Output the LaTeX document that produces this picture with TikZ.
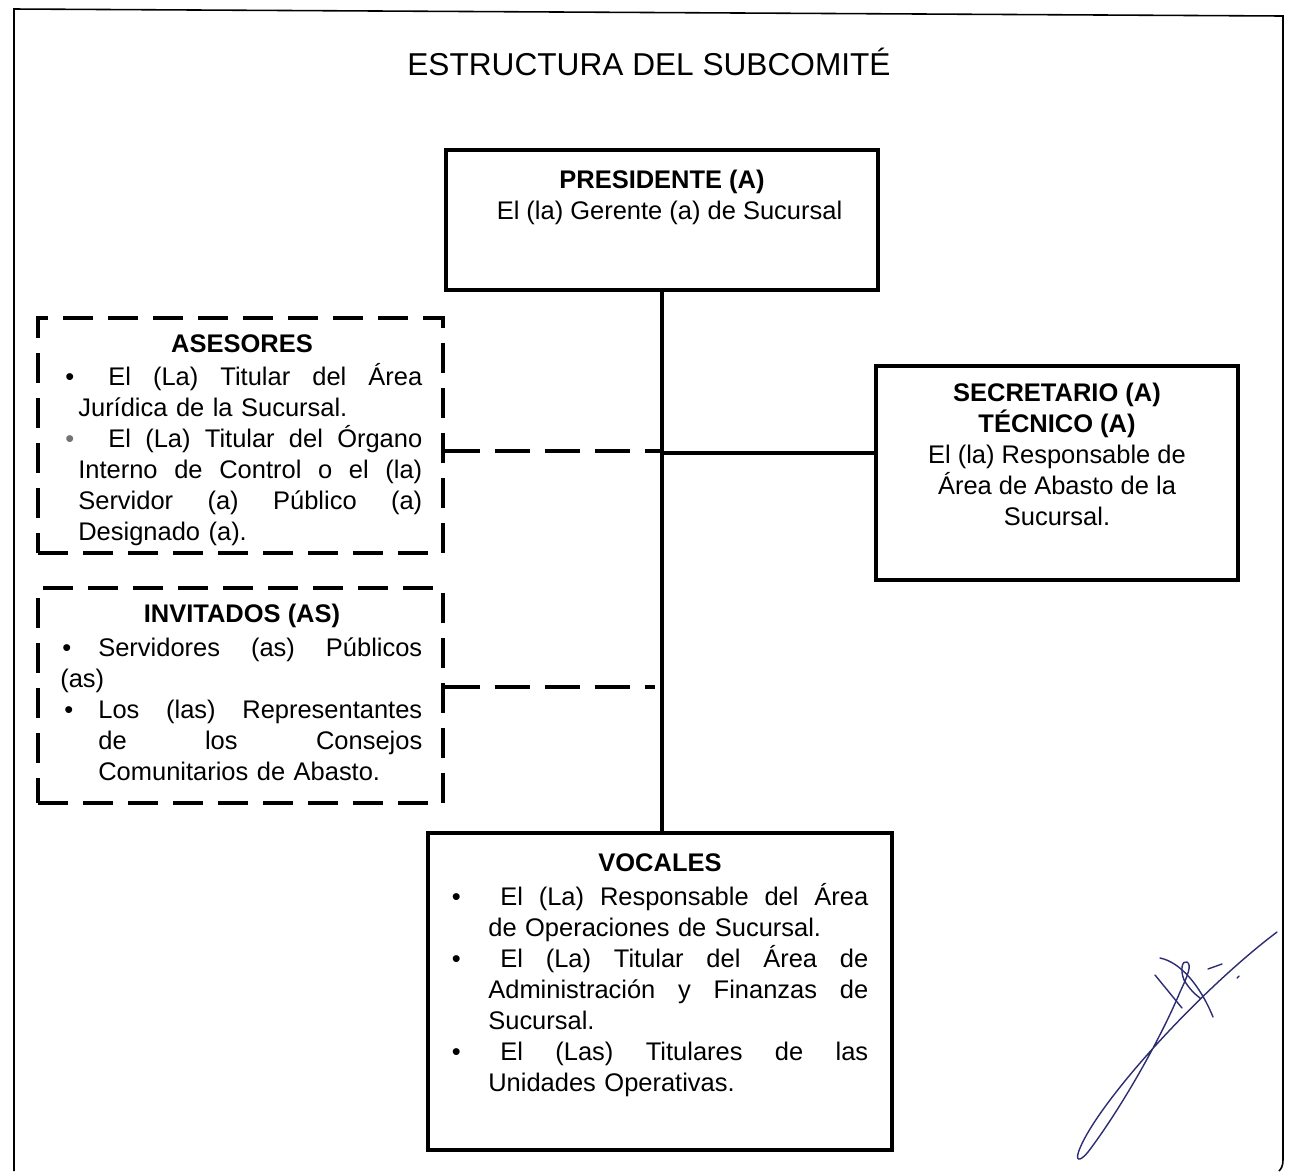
\documentclass[tikz,border=0pt]{standalone}
\usepackage{fontspec}
\setmainfont{Liberation Sans}
\definecolor{inkblue}{RGB}{45,45,115}

% one line stretched to a given width
\newcommand{\jline}[2]{{\spaceskip=.278em plus 1fil\relax\makebox[#1][s]{#2}}}
% hanging bullet, #1 = gap between bullet and text
\newcommand{\hbul}[1]{\leavevmode\llap{\textbullet\kern#1}}
\newcommand{\ind}[1]{\leavevmode\kern#1\relax}

\begin{document}
\begin{tikzpicture}[x=0.02cm, y=-0.02cm,
	solidbox/.style={draw, line width=2.2pt, inner sep=0pt},
	dashbox/.style={draw, line width=1.9pt, dash pattern=on 0.6cm off 0.3cm, inner sep=0pt},
	head/.style={font=\fontsize{14.5}{17.6}\selectfont\bfseries, anchor=base, inner sep=0pt},
	boxtext/.style={font=\fontsize{14.5}{17.6}\selectfont, align=center, inner sep=0pt, anchor=north},
	list/.style={font=\fontsize{14.5}{17.6}\selectfont, align=left, inner sep=0pt, anchor=north west},
	link/.style={line width=1.8pt},
	dlink/.style={link, dash pattern=on 0.7cm off 0.3cm},
	sign/.style={inkblue, line width=0.8pt, line cap=round}]
	\useasboundingbox (0,0) rectangle (1296,1171);

	% Frame and title
	\draw [line width=0.9pt] (14,1171) -- (14,9) -- (1283,16) -- (1283,1160) .. controls (1283,1166) and (1281,1169) .. (1279,1171);
	\node [font=\fontsize{18}{22}\selectfont, anchor=base] (title) at (649,75) {ESTRUCTURA DEL SUBCOMITÉ};

	% Boxes {pres, sec, ase, inv, voc}
	\node [solidbox, minimum width=8.64cm, minimum height=2.8cm]  (pres) at (662,220)     {};
	\node [solidbox, minimum width=7.24cm, minimum height=4.28cm] (sec)  at (1057,473)    {};
	\node [dashbox,  minimum width=8.1cm,  minimum height=4.7cm]  (ase)  at (240.5,435.5) {};
	\node [dashbox,  minimum width=8.1cm,  minimum height=4.3cm]  (inv)  at (240.5,695.5) {};
	\node [solidbox, minimum width=9.28cm, minimum height=6.34cm] (voc)  at (660,991.5)   {};

	% Texts
	\node [boxtext] (presT) at (662,164) {\rule{0pt}{14pt}\textbf{PRESIDENTE (A)}\\\kern0.3cm El (la) Gerente (a) de Sucursal};
	\node [boxtext] (secT)  at (1057,377) {\rule{0pt}{14pt}\textbf{SECRETARIO (A)}\\\textbf{TÉCNICO (A)}\\El (la) Responsable de\\Área de Abasto de la\\Sucursal.};

	\node [head] (aseH) at (242,352) {ASESORES};
	\node [list, text width=6.9cm] (aseL) at (78,361) {%
		\rule{0pt}{14pt}\hbul{0.08cm}\kern0.6cm\jline{6.28cm}{El (La) Titular del Área}\\
		Jurídica de la Sucursal.\\
		\leavevmode\llap{\textcolor{black!55}{\textbullet}\kern0.08cm}\kern0.6cm\jline{6.28cm}{El (La) Titular del Órgano}\\
		\jline{6.88cm}{Interno de Control o el (la)}\\
		\jline{6.88cm}{Servidor (a) Público (a)}\\
		Designado (a).};

	\node [head] (invH) at (242,622) {INVITADOS (AS)};
	\node [list, text width=7.26cm] (invL) at (60,632) {%
		\rule{0pt}{14pt}\makebox[0.76cm][l]{\kern0.04cm\textbullet}\jline{6.48cm}{Servidores (as) Públicos}\\
		(as)\\
		\makebox[0.76cm][l]{\kern0.08cm\textbullet}\jline{6.48cm}{Los (las) Representantes}\\
		\ind{0.76cm}\jline{6.48cm}{de los Consejos}\\
		\ind{0.76cm}Comunitarios de Abasto.};

	\node [head] (vocH) at (660,871) {VOCALES};
	\node [list, text width=7.62cm] (vocL) at (488,881) {%
		\rule{0pt}{14pt}\hbul{0.55cm}\kern0.24cm\jline{7.36cm}{El (La) Responsable del Área}\\
		de Operaciones de Sucursal.\\
		\hbul{0.55cm}\kern0.24cm\jline{7.36cm}{El (La) Titular del Área de}\\
		\jline{7.6cm}{Administración y Finanzas de}\\
		Sucursal.\\
		\hbul{0.55cm}\kern0.24cm\jline{7.36cm}{El (Las) Titulares de las}\\
		Unidades Operativas.};

	% Paths
	\coordinate (jsec) at (662,453);
	\coordinate (jase) at (662,451);
	\coordinate (jinv) at (655,687);
	\draw [link]  (pres.south) -- (pres.south |- voc.north);
	\draw [link]  (jsec) -- (jsec -| sec.west);
	\draw [dlink] (jase -| ase.east) -- (jase);
	\draw [dlink] (jinv -| inv.east) -- (jinv);

	% Signature
	\draw [sign] (1277,932) .. controls (1200,990) and (1100,1100) .. (1080,1148)
		.. controls (1074,1162) and (1080,1162) .. (1088,1152)
		.. controls (1120,1110) and (1160,1040) .. (1180,992)
		.. controls (1188,975) and (1192,965) .. (1187,962)
		.. controls (1182,960) and (1180,970) .. (1184,980)
		.. controls (1190,990) and (1196,995) .. (1200,998);
	\draw [sign] (1160,958) .. controls (1180,962) and (1200,985) .. (1213,1017);
	\draw [sign] (1155,975) -- (1182,1008);
	\draw [sign] (1208,969) -- (1222,964);
	\draw [sign] (1237,978) -- (1239,976);
\end{tikzpicture}
\end{document}
